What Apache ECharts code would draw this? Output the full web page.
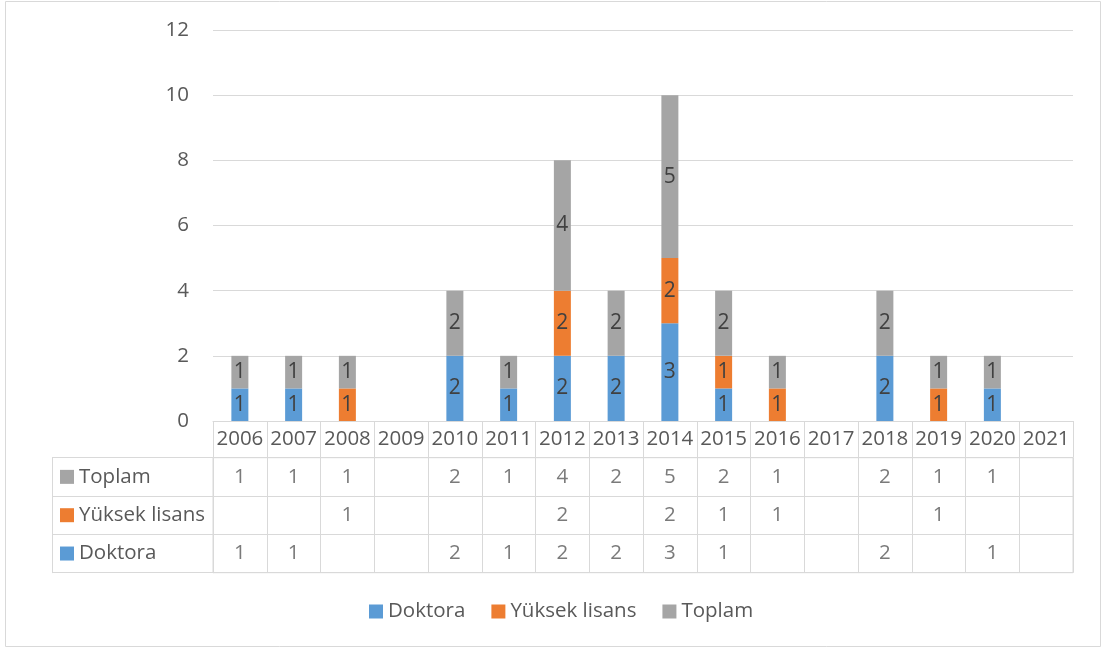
<!DOCTYPE html>
<html>
<head>
<meta charset="utf-8">
<script src="https://cdn.jsdelivr.net/npm/echarts@6/dist/echarts.min.js"></script>
<style>
    html,body{margin:0;padding:0;background:#fff;}
    #main{width:1103px;height:648px;}
</style>
</head>
<body>
<div id="main"></div>
<script>
// yıllar (kategori)
var years = ['2006','2007','2008','2009','2010','2011','2012','2013','2014','2015','2016','2017','2018','2019','2020','2021'];
// seriler, boş hücre = null
var doktora      = [1, 1, null, null, 2, 1, 2, 2, 3, 1, null, null, 2, null, 1, null];
var yuksekLisans = [null, null, 1, null, null, null, 2, null, 2, 1, 1, null, null, 1, null, null];
var toplam       = [1, 1, 1, null, 2, 1, 4, 2, 5, 2, 1, null, 2, 1, 1, null];

var seriesNames = ['Doktora', 'Yüksek lisans', 'Toplam'];
var seriesData = [doktora, yuksekLisans, toplam];
var colors = ['#5B9BD5', '#ED7D31', '#A5A5A5'];

var font = 'Open Sans';
var fs = 20.5;
var textColor = '#595959';
var lineColor = '#D9D9D9';

var myChart = echarts.init(document.getElementById('main'));

// bar serileri
var series = seriesNames.map(function(name, i){
    return {
        name: name,
        type: 'bar',
        stack: 'total',
        xAxisIndex: 0,
        yAxisIndex: 0,
        barWidth: 17,
        data: seriesData[i],
        itemStyle: {color: colors[i]},
        label: {
            show: true,
            position: 'inside',
            color: '#404040',
            fontFamily: font,
            fontSize: 21
        }
    };
});

// veri tablosu hücreleri
seriesNames.forEach(function(name, i){
    var cells = [];
    seriesData[i].forEach(function(v, j){
        if (v != null) cells.push([years[j], name, v]);
    });
    series.push({
        name: name + '_table',
        type: 'scatter',
        xAxisIndex: 1,
        yAxisIndex: 1,
        symbolSize: 0,
        silent: true,
        data: cells,
        label: {
            show: true,
            position: 'inside',
            formatter: function(p){ return p.value[2]; },
            color: textColor,
            fontFamily: font,
            fontSize: fs
        }
    });
});

// satır etiketleri için renkli kareler
var rich = {t: {color: textColor, fontFamily: font, fontSize: fs, padding: [0, 0, 0, 5]}};
seriesNames.forEach(function(name, i){
    rich['s' + i] = {width: 14, height: 14, backgroundColor: colors[i]};
});

var option = {
    animation: false,
    textStyle: {fontFamily: font},
    graphic: [{
        type: 'rect',
        shape: {x: 5.5, y: 1.5, width: 1095, height: 645},
        style: {fill: null, stroke: lineColor, lineWidth: 1},
        silent: true
    }],
    legend: {
        data: seriesNames,
        left: 364,
        top: 596,
        itemWidth: 14,
        itemHeight: 14,
        itemGap: 26,
        icon: 'rect',
        textStyle: {color: textColor, fontFamily: font, fontSize: fs}
    },
    grid: [
        {left: 213, top: 30, width: 860, height: 391},
        {left: 213, top: 457.7, width: 860, height: 115, show: true, borderColor: lineColor, borderWidth: 1}
    ],
    xAxis: [
        {
            type: 'category',
            gridIndex: 0,
            data: years,
            axisLine: {show: true, lineStyle: {color: lineColor}},
            axisTick: {show: true, length: 36.7, lineStyle: {color: lineColor}},
            axisLabel: {color: textColor, fontFamily: font, fontSize: fs, margin: 8, interval: 0}
        },
        {
            type: 'category',
            gridIndex: 1,
            data: years,
            axisLine: {show: false},
            axisTick: {show: false},
            axisLabel: {show: false},
            splitLine: {show: true, interval: 0, lineStyle: {color: lineColor}}
        }
    ],
    yAxis: [
        {
            type: 'value',
            gridIndex: 0,
            min: 0,
            max: 12,
            interval: 2,
            axisLine: {show: false},
            axisTick: {show: false},
            axisLabel: {color: textColor, fontFamily: font, fontSize: fs, margin: 24},
            splitLine: {lineStyle: {color: lineColor}}
        },
        {
            type: 'category',
            gridIndex: 1,
            data: seriesNames,
            axisLine: {show: true, lineStyle: {color: lineColor}},
            axisTick: {show: true, length: 161, lineStyle: {color: lineColor}},
            splitLine: {show: true, lineStyle: {color: lineColor}},
            axisLabel: {
                align: 'left',
                margin: 153,
                formatter: function(v, idx){
                    return '{s' + idx + '|}{t|' + v + '}';
                },
                rich: rich
            }
        },
        {
            // tablonun sol kenarı
            type: 'value',
            gridIndex: 1,
            position: 'left',
            offset: 161,
            axisLine: {show: true, lineStyle: {color: lineColor}},
            axisTick: {show: false},
            axisLabel: {show: false},
            splitLine: {show: false}
        }
    ],
    series: series
};

myChart.setOption(option);
</script>
</body>
</html>
